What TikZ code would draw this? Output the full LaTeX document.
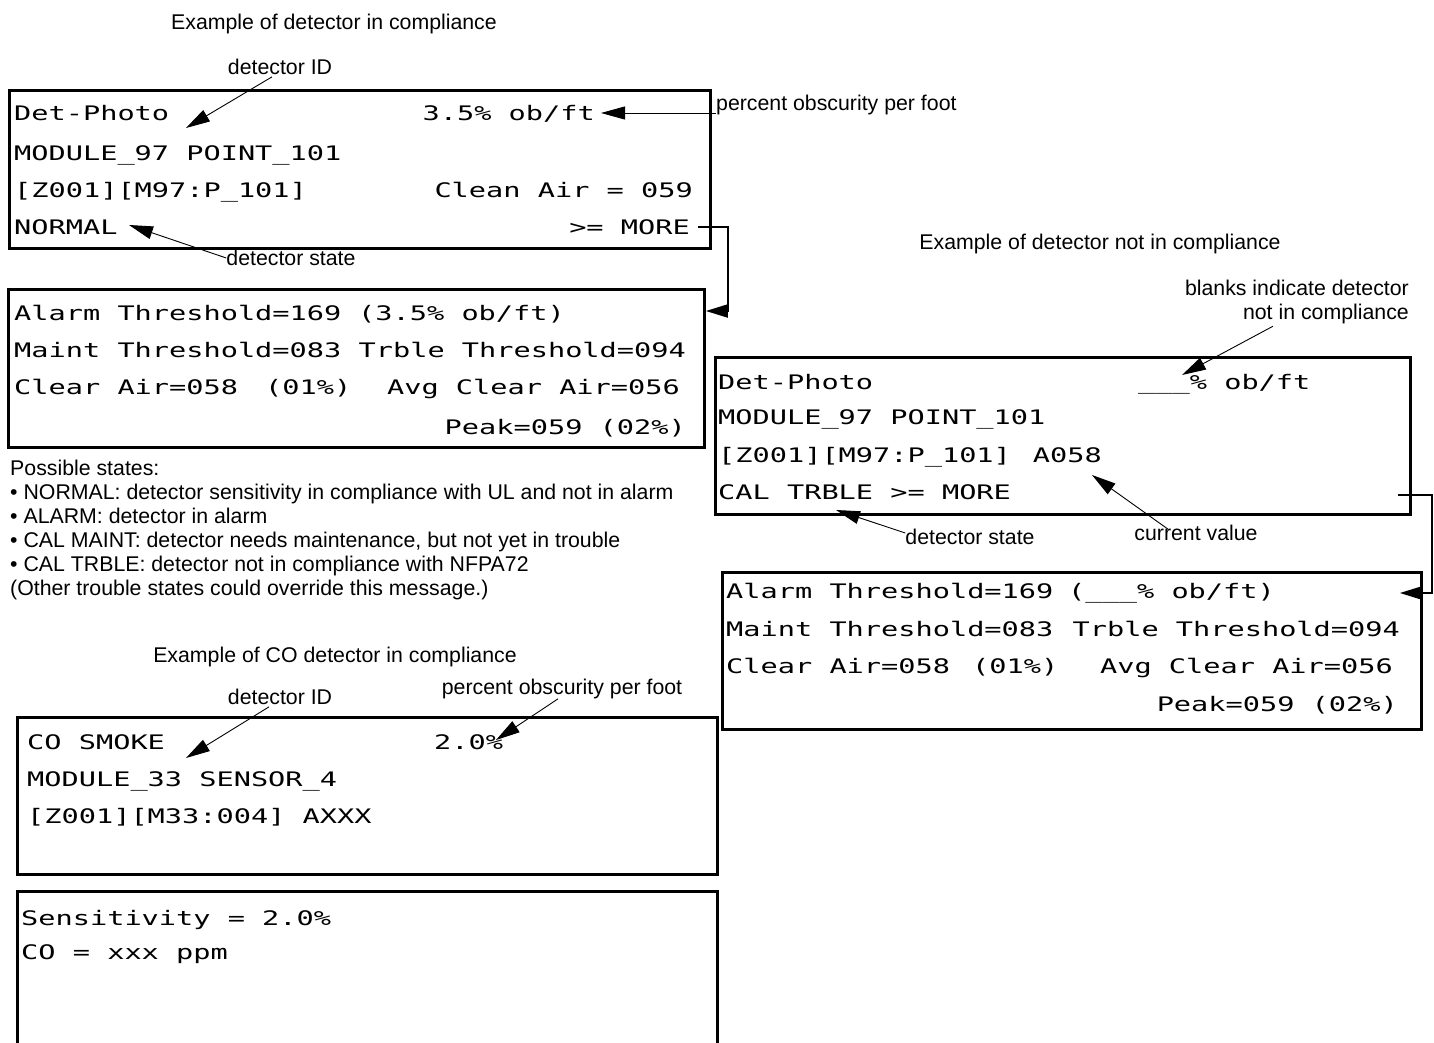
\documentclass[tikz,border=0pt]{standalone}
\usepackage{fontspec}
\setmainfont{Liberation Sans}
\newfontfamily\lcdfont{DejaVu Sans Mono}[FakeStretch=1.43]
\usetikzlibrary{arrows.meta,positioning,calc}

\begin{document}
\begin{tikzpicture}[
  x=1pt, y=-1pt,
  lcdbox/.style={draw, line width=2.8pt, anchor=north west, inner sep=0pt},
  lcd/.style={font=\lcdfont\fontsize{20}{24}\selectfont, inner sep=0pt, text height=14.6pt, text depth=0pt},
  note/.style={font=\fontsize{21.3}{24}\selectfont, inner sep=0pt, text height=15.3pt, text depth=0pt},
  notes/.style={font=\fontsize{21.3}{24}\selectfont, inner sep=0pt},
  callout/.style={-{Triangle[length=24pt,width=13pt]}, line width=0.9pt},
  link/.style={-{Triangle[length=22pt,width=13pt]}, line width=2pt}
]
\useasboundingbox (0,0) rectangle (1434,1043);

% detector in compliance
\node[note] (title1) at (334,22) {Example of detector in compliance};
\node[lcdbox, minimum width=701pt, minimum height=158pt] (b1) at (8,89) {};
\node[lcd, anchor=west] (name1) at (14,113) {Det-Photo};
\node[lcd, anchor=east] (obs1) at (595,113) {3.5\% ob/ft};
\node[lcd, anchor=west] (addr1) at (14,153) {MODULE\_97 POINT\_101};
\node[lcd, anchor=west] (zone1) at (14,190) {[Z001][M97:P\_101]};
\node[lcd, anchor=east] (clean1) at (693,190) {Clean Air = 059};
\node[lcd, anchor=west] (state1) at (14,227) {NORMAL};
\node[lcd, anchor=east] (more1) at (690,227) {>= MORE};

\node[note] (id1) at (280,67) {detector ID};
\node[note, anchor=west] (pct1) at (716,103) {percent obscurity per foot};
\node[note] (st1) at (291,258) {detector state};
\coordinate (tipid1) at (186,128);
\coordinate (tippct1) at (601,113);
\coordinate (tipst1) at (129,225);
\draw[callout] (id1.south) ++(-8,2) -- (tipid1);
\draw[callout] (pct1.west |- tippct1) -- (tippct1);
\draw[callout] (st1.west) -- (tipst1);

\node[lcdbox, minimum width=696pt, minimum height=158pt] (b2) at (7,288) {};
\node[lcd, anchor=west] (alarm2) at (14,313) {Alarm Threshold=169};
\node[lcd, anchor=west] (alobs2) at (358,313) {(3.5\% ob/ft)};
\node[lcd, anchor=west] (maint2) at (14,350) {Maint Threshold=083};
\node[lcd, anchor=east] (trble2) at (686,350) {Trble Threshold=094};
\node[lcd, anchor=west] (clear2) at (14,387) {Clear Air=058};
\node[lcd, anchor=west] (clpct2) at (265,387) {(01\%)};
\node[lcd, anchor=east] (avg2) at (680,387) {Avg Clear Air=056};
\node[lcd, anchor=east] (peak2) at (686,427) {Peak=059 (02\%)};

\coordinate (j1) at (728,311);
\draw[link] ([xshift=8pt]more1.east) -| (j1) -- (b2.east |- j1);

\node[notes, anchor=north west, align=left] (states) at (10,460) {Possible states:\\
  • NORMAL: detector sensitivity in compliance with UL and not in alarm\\
  • ALARM: detector in alarm\\
  • CAL MAINT: detector needs maintenance, but not yet in trouble\\
  • CAL TRBLE: detector not in compliance with NFPA72\\
  (Other trouble states could override this message.)};

% detector not in compliance
\node[note] (title2) at (1100,242) {Example of detector not in compliance};
\node[notes, anchor=north east, align=right] (blank3) at (1409,280) {blanks indicate detector\\not in compliance};
\node[lcdbox, minimum width=695pt, minimum height=157pt] (b3) at (714,356) {};
\node[lcd, anchor=west] (name3) at (718,382) {Det-Photo};
\node[lcd, anchor=west] (obs3) at (1138,382) {\_\_\_\% ob/ft};
\node[lcd, anchor=west] (addr3) at (718,417) {MODULE\_97 POINT\_101};
\node[lcd, anchor=west] (zone3) at (718,455) {[Z001][M97:P\_101]};
\node[lcd, anchor=east] (val3) at (1102,455) {A058};
\node[lcd, anchor=west] (state3) at (718,492) {CAL TRBLE >= MORE};

\node[note] (st3) at (970,537) {detector state};
\node[note] (cur3) at (1196,533) {current value};
\coordinate (tipbl3) at (1182,375);
\coordinate (tipst3) at (836,510);
\coordinate (tipcur3) at (1092,475);
\draw[callout] ([xshift=-24pt,yshift=-2pt]blank3.south) -- (tipbl3);
\draw[callout] (st3.west) ++(0,-4) -- (tipst3);
\draw[callout] ([xshift=-28pt,yshift=-4pt]cur3.north) -- (tipcur3);

\node[lcdbox, minimum width=699pt, minimum height=157pt] (b4) at (721,571) {};
\node[lcd, anchor=west] (alarm4) at (726,591) {Alarm Threshold=169};
\node[lcd, anchor=west] (alobs4) at (1068,591) {(\_\_\_\% ob/ft)};
\node[lcd, anchor=west] (maint4) at (726,629) {Maint Threshold=083};
\node[lcd, anchor=east] (trble4) at (1400,629) {Trble Threshold=094};
\node[lcd, anchor=west] (clear4) at (726,666) {Clear Air=058};
\node[lcd, anchor=west] (clpct4) at (972,666) {(01\%)};
\node[lcd, anchor=east] (avg4) at (1393,666) {Avg Clear Air=056};
\node[lcd, anchor=east] (peak4) at (1398,704) {Peak=059 (02\%)};

\coordinate (j3) at (1432,593);
\draw[link] ([xshift=-14pt,yshift=-3pt]b3.east |- state3) -| (j3) -- ([xshift=-23pt]b4.east |- j3);

% CO detector in compliance
\node[note] (title5) at (335,655) {Example of CO detector in compliance};
\node[note] (id5) at (280,697) {detector ID};
\node[note] (pct5) at (562,687) {percent obscurity per foot};
\node[lcdbox, minimum width=700pt, minimum height=157pt] (b5) at (16,716) {};
\node[lcd, anchor=west] (name5) at (27,742) {CO SMOKE};
\node[lcd, anchor=west] (sens5) at (434,742) {2.0\%};
\node[lcd, anchor=west] (addr5) at (27,779) {MODULE\_33 SENSOR\_4};
\node[lcd, anchor=west] (zone5) at (27,816) {[Z001][M33:004] AXXX};
\coordinate (tipid5) at (186,758);
\coordinate (tippct5) at (496,740);
\draw[callout] (id5.south) ++(-11,2) -- (tipid5);
\draw[callout] (pct5.south) ++(-4,4) -- (tippct5);

\node[lcdbox, minimum width=700pt, minimum height=180pt] (b6) at (16,890) {};
\node[lcd, anchor=west] (sens6) at (21,918) {Sensitivity = 2.0\%};
\node[lcd, anchor=west] (co6) at (21,952) {CO = xxx ppm};
\end{tikzpicture}
\end{document}
